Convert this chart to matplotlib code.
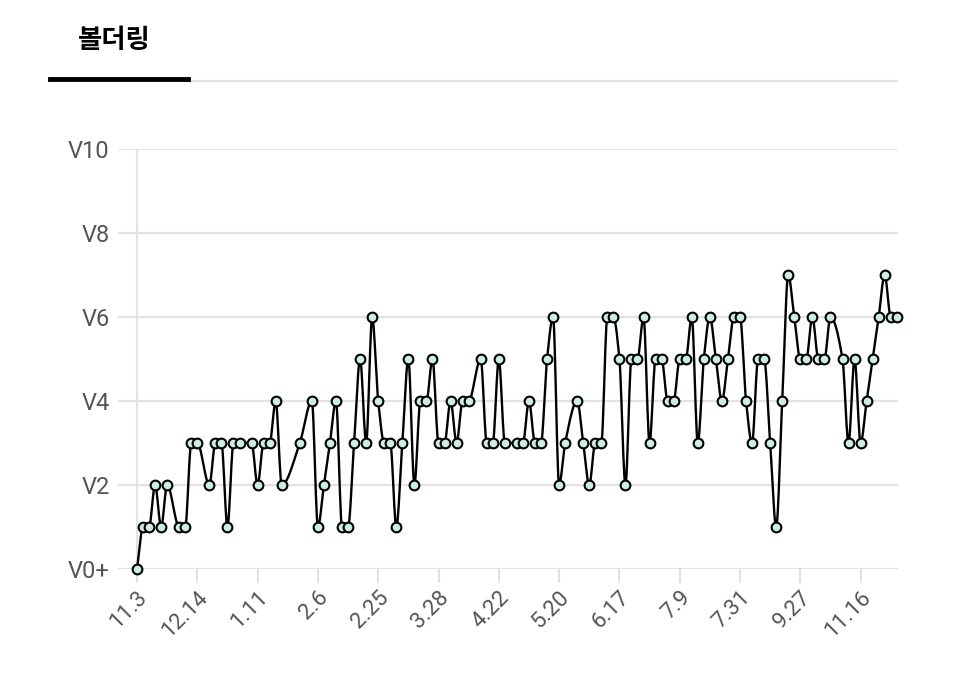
import matplotlib
matplotlib.use("Agg")
import matplotlib.pyplot as plt
import numpy as np

# slot position of each session (ticks every 10 slots) and grade reached
slots = [0, 1, 2, 3, 4, 5, 7, 8, 9, 10, 12, 13, 14, 15, 16, 17, 19, 20, 21, 22,
         23, 24, 27, 29, 30, 31, 32, 33, 34, 35, 36, 37, 38, 39, 40, 41, 42, 43, 44, 45,
         46, 47, 48, 49, 50, 51, 52, 53, 54, 55, 57, 58, 59, 60, 61, 63, 64, 65, 66, 67,
         68, 69, 70, 71, 73, 74, 75, 76, 77, 78, 79, 80, 81, 82, 83, 84, 85, 86, 87, 88,
         89, 90, 91, 92, 93, 94, 95, 96, 97, 98, 99, 100, 101, 102, 103, 104, 105, 106, 107, 108,
         109, 110, 111, 112, 113, 114, 115, 117, 118, 119, 120, 121, 122, 123, 124, 125, 126]
grades = [0, 1, 1, 2, 1, 2, 1, 1, 3, 3, 2, 3, 3, 1, 3, 3, 3, 2, 3, 3,
          4, 2, 3, 4, 1, 2, 3, 4, 1, 1, 3, 5, 3, 6, 4, 3, 3, 1, 3, 5,
          2, 4, 4, 5, 3, 3, 4, 3, 4, 4, 5, 3, 3, 5, 3, 3, 3, 4, 3, 3,
          5, 6, 2, 3, 4, 3, 2, 3, 3, 6, 6, 5, 2, 5, 5, 6, 3, 5, 5, 4,
          4, 5, 5, 6, 3, 5, 6, 5, 4, 5, 6, 6, 4, 3, 5, 5, 3, 1, 4, 7,
          6, 5, 5, 6, 5, 5, 6, 5, 3, 5, 3, 4, 5, 6, 7, 6, 6]
tick_slots = [0, 10, 20, 30, 40, 50, 60, 70, 80, 90, 100, 110, 120]
tick_labels = ['11.3', '12.14', '1.11', '2.6', '2.25', '3.28', '4.22',
               '5.20', '6.17', '7.9', '7.31', '9.27', '11.16']
grade_ticks = [0, 2, 4, 6, 8, 10]
grade_labels = ['V0+', 'V2', 'V4', 'V6', 'V8', 'V10']


def monotone(x, y, n=12):
    # Fritsch-Carlson monotone cubic for the smooth line
    x = np.asarray(x, float); y = np.asarray(y, float)
    h = np.diff(x); d = np.diff(y) / h
    m = np.zeros_like(y)
    m[0], m[-1] = d[0], d[-1]
    for i in range(1, len(y) - 1):
        if d[i - 1] * d[i] > 0:
            w1, w2 = 2 * h[i] + h[i - 1], h[i] + 2 * h[i - 1]
            m[i] = (w1 + w2) / (w1 / d[i - 1] + w2 / d[i])
    xs, ys = [], []
    for i in range(len(h)):
        t = np.linspace(0, 1, n, endpoint=False)
        h00 = 2*t**3 - 3*t**2 + 1; h10 = t**3 - 2*t**2 + t
        h01 = -2*t**3 + 3*t**2; h11 = t**3 - t**2
        xs.append(x[i] + t * h[i])
        ys.append(h00*y[i] + h10*h[i]*m[i] + h01*y[i+1] + h11*h[i]*m[i+1])
    xs.append([x[-1]]); ys.append([y[-1]])
    return np.concatenate(xs), np.concatenate(ys)


fig = plt.figure(figsize=(9.6, 6.82), dpi=100)
W, H = 960, 682
ax = fig.add_axes([118 / W, 1 - 569 / H, (898 - 118) / W, (569 - 149) / H])

px = 6.03
ax.set_xlim(-19 / px, (898 - 137) / px)
ax.set_ylim(0, 10)

sx, sy = monotone(slots, grades)
ax.plot(sx, sy, color='black', lw=1.7, clip_on=False, zorder=3)
ax.plot(slots, grades, 'o', ms=7, mfc='#c9efe2', mec='black', mew=1.5,
        clip_on=False, zorder=4)

for g in grade_ticks:
    ax.axhline(g, color='#e3e3e3', lw=1.5, zorder=0)
ax.axvline(0, color='#e3e3e3', lw=1.5, zorder=0)
for s in ax.spines.values():
    s.set_visible(False)

ax.set_yticks(grade_ticks)
ax.set_yticklabels(grade_labels, fontsize=17, color='#555555', fontfamily='Roboto')
ax.tick_params(axis='y', length=0, pad=6)
ax.set_xticks(tick_slots)
ax.set_xticklabels(tick_labels, fontsize=16, color='#555555', rotation=45,
                   ha='right', rotation_mode='anchor', fontfamily='Roboto')
ax.tick_params(axis='x', length=10, width=1.5, color='#e3e3e3', pad=3)

fig.text(78 / W, 1 - 40 / H, '볼더링', fontsize=19, fontweight='bold',
         fontfamily=['Noto Sans CJK KR', 'Noto Sans CJK JP', 'Noto Sans CJK SC'],
         va='center', ha='left')
fig.add_artist(plt.Line2D([188 / W, 897 / W], [1 - 81 / H] * 2, color='#e3e3e3', lw=1.5))
fig.add_artist(plt.Line2D([50 / W, 188 / W], [1 - 79 / H] * 2, color='black', lw=3.5))

fig.savefig('out.png', dpi=100)
